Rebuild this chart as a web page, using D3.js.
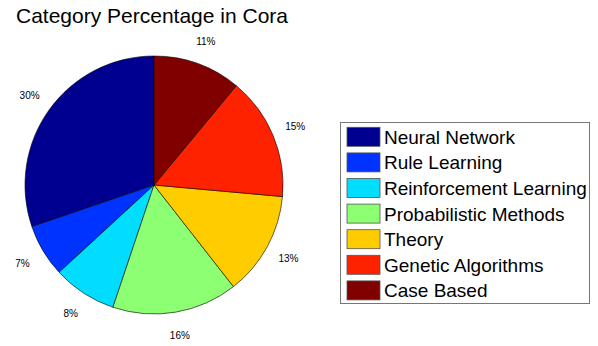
<!DOCTYPE html>
<html><head><meta charset="utf-8">
<script src="https://cdn.jsdelivr.net/npm/d3@7"></script>
<style>body{margin:0;background:#fff}svg{display:block}</style>
</head><body><svg id="c" width="598" height="346"></svg>
<script>
const categories = ["Neural Network","Rule Learning","Reinforcement Learning","Probabilistic Methods","Theory","Genetic Algorithms","Case Based"];
const percentages = [30.2, 6.6, 8.0, 15.7, 13.0, 15.4, 11.0];
const colors = ["#000090","#0033ff","#00ddff","#8cff73","#ffcc00","#ff2200","#800000"];
const title = "Category Percentage in Cora";

const svg = d3.select("#c");
const font = "Liberation Sans, Arial, Helvetica, sans-serif";
svg.append("text").attr("x",152).attr("y",23).attr("text-anchor","middle")
  .attr("font-family",font).attr("font-size",21).attr("fill","#000").text(title);

const cx=154, cy=185, r=129, lr=153;
const color = d3.scaleOrdinal().domain(categories).range(colors);
const pie = d3.pie().sort(null).startAngle(0).endAngle(-2*Math.PI);
const data = categories.map((c,i)=>({c, v:percentages[i]}));
const arcs = pie.value(d=>d.v)(data);
const arc = d3.arc().innerRadius(0).outerRadius(r);
const g = svg.append("g").attr("transform",`translate(${cx},${cy})`);
g.selectAll("path").data(arcs).join("path").attr("d",arc)
  .attr("fill",d=>color(d.data.c)).attr("stroke","#000").attr("stroke-width",0.6);
const total = d3.sum(percentages);
g.selectAll("text").data(arcs).join("text")
  .attr("x",d=>lr*Math.sin((d.startAngle+d.endAngle)/2))
  .attr("y",d=>-lr*Math.cos((d.startAngle+d.endAngle)/2))
  .attr("text-anchor","middle").attr("dominant-baseline","central")
  .attr("font-family",font).attr("font-size",10).attr("fill","#000")
  .text(d=>Math.round(d.data.v/total*100)+"%");

const lg = svg.append("g");
lg.append("rect").attr("x",340.5).attr("y",122.5).attr("width",249).attr("height",181)
  .attr("fill","#fff").attr("stroke","#777").attr("stroke-width",1);
const rowY = d3.scaleLinear().domain([0,6]).range([136.8,290.4]);
const items = lg.selectAll("g.it").data(categories).join("g").attr("class","it");
items.append("rect").attr("x",347).attr("y",(d,i)=>rowY(i)-9.5).attr("width",33).attr("height",19)
  .attr("fill",d=>color(d)).attr("stroke","#555").attr("stroke-width",0.8);
items.append("text").attr("x",384).attr("y",(d,i)=>rowY(i)+7)
  .attr("font-family",font).attr("font-size",19).attr("fill","#000").text(d=>d);
</script></body></html>
